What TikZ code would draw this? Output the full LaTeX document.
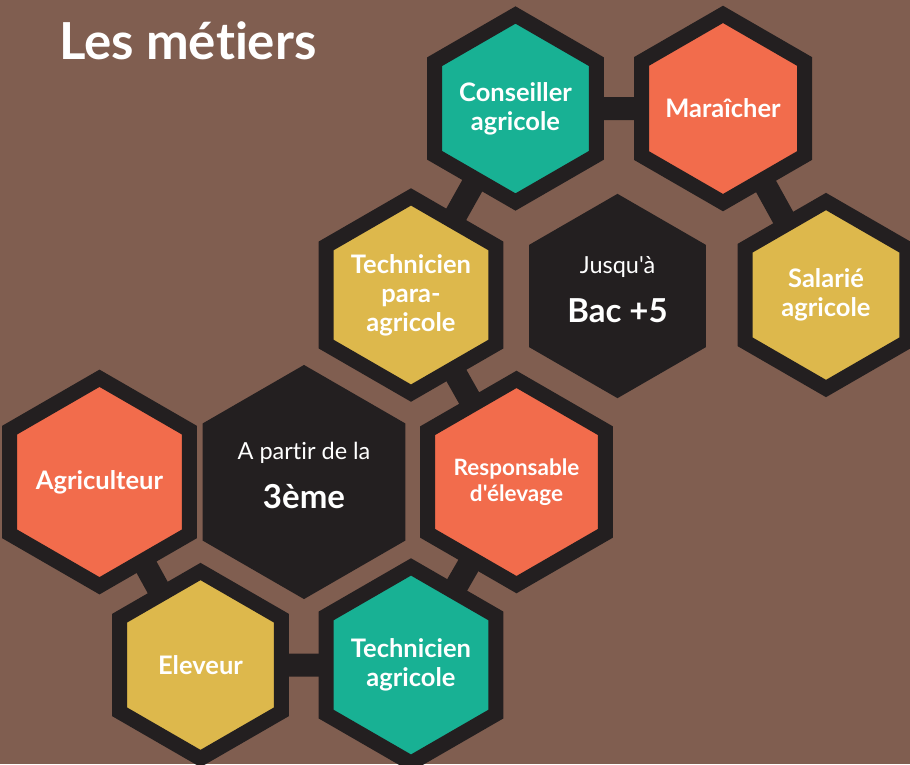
\documentclass[tikz,border=0pt]{standalone}
\usepackage{fontspec}
\setmainfont{Lato}[Ligatures={TeXOff,NoCommon}]
\usetikzlibrary{shapes.geometric}
\definecolor{fond}{RGB}{128,94,80}
\definecolor{noir}{RGB}{35,31,32}
\definecolor{vert}{RGB}{24,177,148}
\definecolor{orange}{RGB}{242,108,76}
\definecolor{jaune}{RGB}{221,184,76}

\begin{document}
\begin{tikzpicture}[%
        x=1pt, y=-1pt,
        every node/.style={regular polygon, regular polygon sides=6, shape border rotate=30,
          minimum size=187pt, inner sep=0pt, line width=15pt, draw=noir, text=white,
          align=center, font=\bfseries\fontsize{25.5}{29}\selectfont},
        niveau/.style={fill=noir, text depth=14pt},
        lien/.style={draw=noir, line width=23pt, shorten >=-6pt, shorten <=-6pt}
      ]
      \fill [fond] (0,0) rectangle (910,764);
      \useasboundingbox (0,0) rectangle (910,764);
      \node [] (titre) [rectangle, draw=none, minimum size=0pt, outer sep=0pt, anchor=base west,
        font=\bfseries\fontsize{51}{51}\selectfont] at (59,59) {Les métiers};
      \node [] (0) [fill=vert] at (515.5,108.5) {Conseiller\\agricole};
      \node [] (1) [fill=orange] at (723,108.5) {Maraîcher};
      \node [] (2) [fill=jaune] at (411,295) {Technicien\\para-\\agricole};
      \node [] (3) [niveau] at (617.5,296) {{\mdseries\fontsize{23.5}{25}\selectfont Jusqu'à}\\[20pt]{\fontsize{33}{34}\selectfont Bac +5}};
      \node [] (4) [fill=jaune] at (826,295) {Salarié\\agricole};
      \node [] (5) [fill=orange] at (99.5,482) {Agriculteur};
      \node [] (6) [niveau] at (304,482) {{\mdseries\fontsize{23.5}{25}\selectfont A partir de la}\\[20pt]{\fontsize{33}{34}\selectfont 3ème}};
      \node [] (7) [fill=orange, font=\bfseries\fontsize{22.5}{26}\selectfont] at (516.5,482) {Responsable\\d'élevage};
      \node [] (8) [fill=jaune] at (200.5,665) {Eleveur};
      \node [] (9) [fill=vert] at (411,665) {Technicien\\agricole};
      \path [lien] (0) edge (1)
      (0) edge (2)
      (1) edge (4)
      (2) edge (7)
      (7) edge (9)
      (5) edge (8)
      (8) edge (9);
    \end{tikzpicture}
\end{document}
